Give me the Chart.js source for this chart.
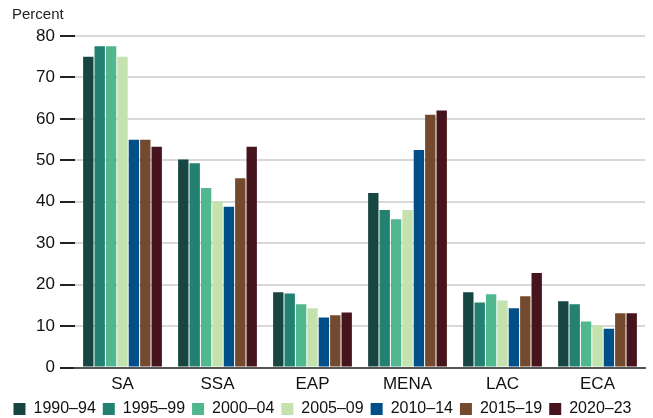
<!DOCTYPE html>
<html>
<head>
<meta charset="utf-8">
<script src="https://cdn.jsdelivr.net/npm/chart.js@4.4.1/dist/chart.umd.min.js"></script>
<style>
  html, body { margin: 0; padding: 0; background: #fff; }
  #wrap { width: 653px; height: 418px; position: relative; }
</style>
</head>
<body>
<div id="wrap"><canvas id="myChart"></canvas></div>
<script>
'use strict';
// regions on the x axis
const regions = ['SA', 'SSA', 'EAP', 'MENA', 'LAC', 'ECA'];
const periods = ['1990–94', '1995–99', '2000–04', '2005–09', '2010–14', '2015–19', '2020–23'];
const yTicks = [0, 10, 20, 30, 40, 50, 60, 70, 80];

// values per period, one per region (percent)
const p1990 = [75.0, 50.2, 18.2, 42.1, 18.2, 16.0];
const p1995 = [77.5, 49.3, 17.9, 38.0, 15.7, 15.3];
const p2000 = [77.5, 43.3, 15.3, 35.8, 17.7, 11.1];
const p2005 = [75.0, 40.0, 14.3, 38.0, 16.2, 10.2];
const p2010 = [55.0, 38.8, 12.1, 52.5, 14.3, 9.4];
const p2015 = [55.0, 45.7, 12.6, 61.0, 17.2, 13.1];
const p2020 = [53.3, 53.3, 13.3, 62.0, 22.8, 13.1];

const colors = ['#174541', '#228170', '#50b78e', '#c3e2ad', '#004f88', '#744a2e', '#45141c'];
const series = [p1990, p1995, p2000, p2005, p2010, p2015, p2020];

const fontFam = '"Liberation Sans", Arial, sans-serif';

// "Percent" unit label above the y axis
const unitLabel = {
  id: 'unitLabel',
  afterDraw(chart) {
    const c = chart.ctx;
    c.save();
    c.fillStyle = '#222';
    c.font = '15px ' + fontFam;
    c.textBaseline = 'middle';
    c.fillText('Percent', 12, 15);
    c.restore();
  }
};

const ctx = document.getElementById('myChart').getContext('2d');
const chart = new Chart(ctx, {
  type: 'bar',
  data: {
    labels: regions,
    datasets: series.map(function (vals, i) {
      return {
        label: periods[i],
        data: vals,
        backgroundColor: colors[i],
        borderWidth: 0,
        categoryPercentage: 0.84,
        barPercentage: 0.91
      };
    })
  },
  options: {
    responsive: true,
    maintainAspectRatio: false,
    animation: false,
    layout: { padding: { left: 0, right: 8, top: 36, bottom: -9 } },
    plugins: {
      legend: {
        position: 'bottom',
        labels: {
          boxWidth: 12,
          boxHeight: 12,
          padding: 7,
          color: '#111',
          font: { family: fontFam, size: 16 }
        }
      },
      tooltip: { enabled: false }
    },
    scales: {
      x: {
        grid: { display: false },
        border: { display: true, color: '#555', width: 2 },
        ticks: { color: '#111', font: { family: fontFam, size: 17 }, padding: -1 }
      },
      y: {
        min: 0,
        max: 80,
        afterBuildTicks: function (axis) {
          axis.ticks = yTicks.map(function (v) { return { value: v }; });
        },
        afterFit: function (axis) { axis.width = 75; },
        border: { display: false },
        grid: {
          color: '#d9d9d9',
          lineWidth: 2,
          tickColor: '#222',
          tickLength: 15
        },
        ticks: { color: '#111', font: { family: fontFam, size: 17 }, padding: 5 }
      }
    }
  },
  plugins: [unitLabel]
});
</script>
</body>
</html>
